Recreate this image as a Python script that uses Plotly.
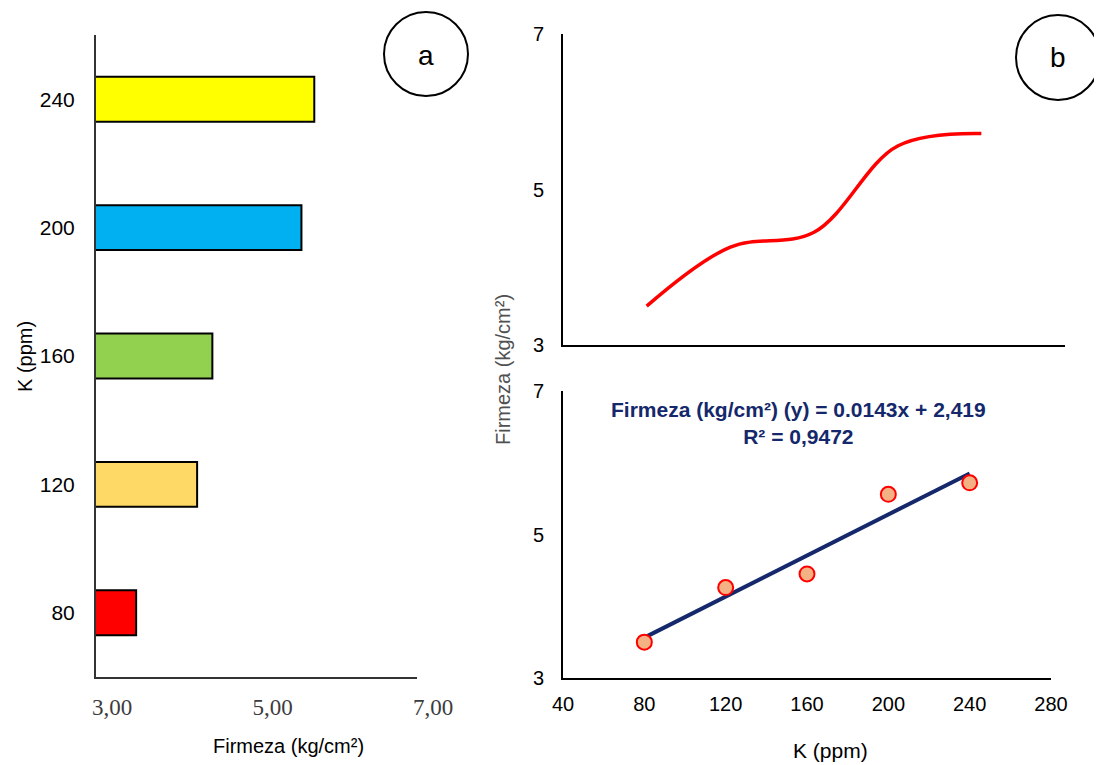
import plotly.graph_objects as go

W, H = 1102, 765
OFF = 8  # page body margin offset

# ---- data ----
k_levels = [80, 120, 160, 200, 240]
k_labels = ["80", "120", "160", "200", "240"]
firmeza = [3.50, 4.26, 4.45, 5.56, 5.72]
bar_colors = ["#FF0000", "#FFD966", "#92D050", "#00B0F0", "#FFFF00"]
xa_ticks = [3, 5, 7]
xa_ticktext = ["3,00", "5,00", "7,00"]
yb_ticks = [3, 5, 7]
xb_ticks = [40, 80, 120, 160, 200, 240, 280]
trend_coef = [0.0143, 2.419]  # slope, intercept
trend_x = [80, 240]

def px(x):
    return (x - OFF) / W

def py(y):
    return 1 - (y - OFF) / H

FONT = "Arial, Liberation Sans, sans-serif"

fig = go.Figure()

# Panel a: horizontal bars
fig.add_trace(go.Bar(
    x=firmeza, y=k_labels, orientation="h",
    marker=dict(color=bar_colors, line=dict(color="black", width=2)),
    width=0.35, xaxis="x", yaxis="y", showlegend=False,
))

# Panel b top: smoothed line
fig.add_trace(go.Scatter(
    x=k_levels, y=firmeza, mode="lines",
    line=dict(color="#FF0000", width=3.5, shape="spline", smoothing=1.0),
    xaxis="x2", yaxis="y2", showlegend=False,
))

# Panel b bottom: trend line + points
trend_y = [trend_coef[0] * x + trend_coef[1] for x in trend_x]
fig.add_trace(go.Scatter(
    x=trend_x, y=trend_y, mode="lines",
    line=dict(color="#14286B", width=4),
    xaxis="x3", yaxis="y3", showlegend=False,
))
fig.add_trace(go.Scatter(
    x=k_levels, y=firmeza, mode="markers",
    marker=dict(size=15, color="#F4B183", line=dict(color="#FF0000", width=2)),
    xaxis="x3", yaxis="y3", showlegend=False,
))

def ax(**kw):
    d = dict(showgrid=False, zeroline=False, showline=True, automargin=False,
             linecolor="black", linewidth=2, ticks="")
    d.update(kw)
    return d

fig.update_layout(
    width=W, height=H,
    margin=dict(l=0, r=0, t=0, b=0, autoexpand=False),
    paper_bgcolor="white", plot_bgcolor="white",
    font=dict(family=FONT, color="black"),
    xaxis=ax(domain=[px(96), px(417)], range=[3, 7], anchor="y",
             tickvals=xa_ticks, ticktext=xa_ticktext,
             tickfont=dict(family="Liberation Serif, serif", size=23, color="#3C3C3C"),
             ticklabelshift=16, ticklabelstandoff=8, linecolor="#333333"),
    yaxis=ax(domain=[py(677), py(35)], range=[-0.5, 4.5], anchor="x",
             type="category", tickfont=dict(size=21, color="black"),
             ticklabelstandoff=15, linecolor="#333333"),
    xaxis2=ax(domain=[px(563), px(1065)], range=[40, 280], anchor="y2",
              showticklabels=False),
    yaxis2=ax(domain=[py(345), py(34)], range=[3, 7], anchor="x2",
              tickvals=yb_ticks, tickfont=dict(size=20, color="black"),
              ticklabelstandoff=13),
    xaxis3=ax(domain=[px(563), px(1051)], range=[40, 280], anchor="y3",
              tickvals=xb_ticks, tickfont=dict(size=20, color="black"),
              ticklabelstandoff=7),
    yaxis3=ax(domain=[py(678), py(391)], range=[3, 7], anchor="x3",
              tickvals=yb_ticks, tickfont=dict(size=20, color="black"),
              ticklabelstandoff=13),
)

annotations = [
    dict(text="Firmeza (kg/cm²)", x=px(288), y=py(746), font=dict(size=20, color="black")),
    dict(text="K (ppm)", x=px(25), y=py(357), textangle=-90, font=dict(size=20, color="black")),
    dict(text="Firmeza (kg/cm²)", x=px(503), y=py(370), textangle=-90,
         font=dict(size=20, color="#505050")),
    dict(text="K (ppm)", x=px(830), y=py(750), font=dict(size=21, color="black")),
    dict(text="<b>Firmeza (kg/cm²) (y) = 0.0143x + 2,419</b><br><b>R² = 0,9472</b>",
         x=px(798), y=py(423), font=dict(size=21, color="#14286B")),
    dict(text="a", x=px(426), y=py(55), font=dict(size=28, color="black")),
    dict(text="b", x=px(1058), y=py(58), font=dict(size=28, color="black")),
]
for a in annotations:
    a.update(xref="paper", yref="paper", showarrow=False, xanchor="center", yanchor="middle")
    fig.add_annotation(**a)

fig.add_shape(type="circle", xref="paper", yref="paper",
              x0=px(384), x1=px(468), y0=py(96), y1=py(12),
              line=dict(color="black", width=2))
fig.add_shape(type="circle", xref="paper", yref="paper",
              x0=px(1016), x1=px(1100), y0=py(100), y1=py(15),
              line=dict(color="black", width=2))

fig.write_html("out.html")
